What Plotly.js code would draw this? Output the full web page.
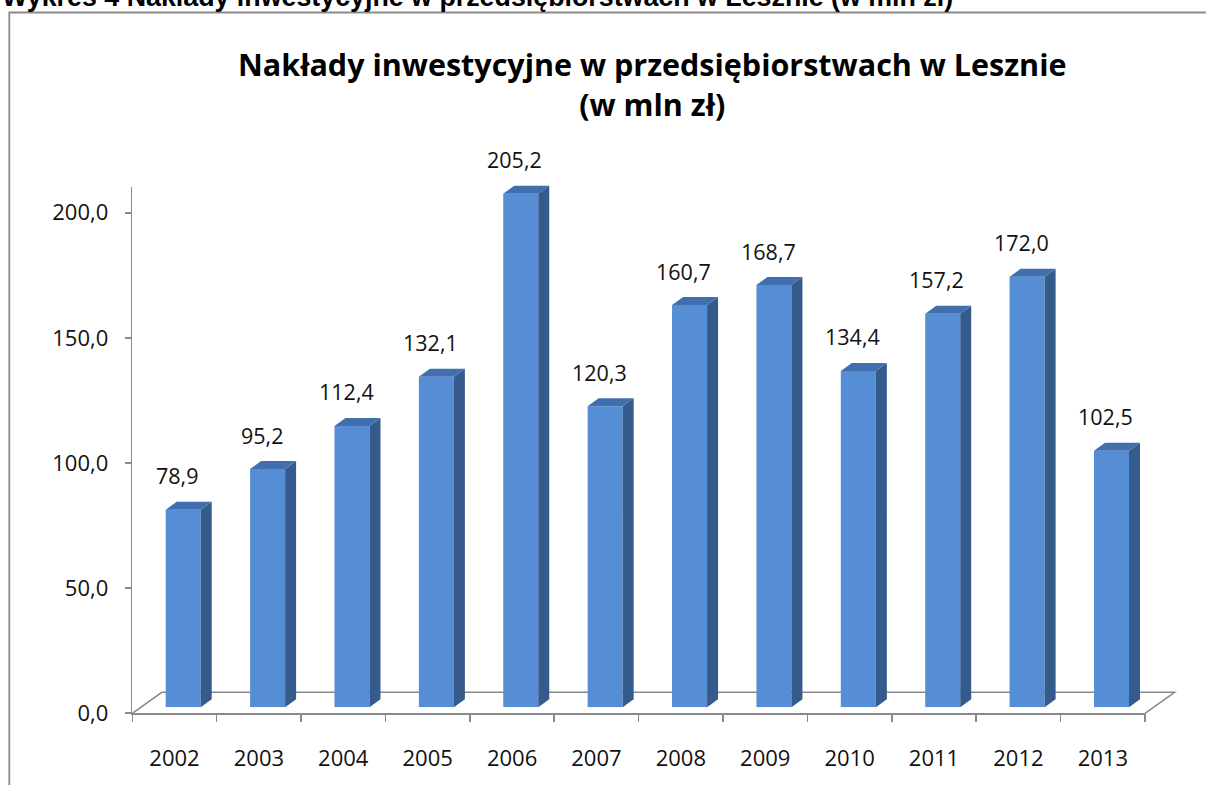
<!DOCTYPE html>
<html>
<head>
<meta charset="utf-8">
<script src="https://cdn.plot.ly/plotly-3.0.1.min.js"></script>
<style>html,body{margin:0;padding:0;background:#fff;}#chart{width:1206px;height:785px;}</style>
</head>
<body>
<div id="chart"></div>
<script>
// ---- data ----
const years = ["2002","2003","2004","2005","2006","2007","2008","2009","2010","2011","2012","2013"];
const values = [78.9, 95.2, 112.4, 132.1, 205.2, 120.3, 160.7, 168.7, 134.4, 157.2, 172.0, 102.5];
const yTicks = [0, 50, 100, 150, 200];
const chartTitle = "Nakłady inwestycyjne w przedsiębiorstwach w Lesznie<br>(w mln zł)";
const headerText = "Wykres 4 Nakłady inwestycyjne w przedsiębiorstwach w Lesznie (w mln zł)";

// ---- layout constants (pixels) ----
const W = 1206, H = 785;
const AX_L = 132.3, AX_R = 1145, AX_B = 713.3, AX_T = 186.7;
const Y_MAX = 210.4;
const BAR_DX = 8.7, BAR_DY = 6;          // bar plane offset from front axis
const FLOOR_DX = 29.5, FLOOR_DY = 21;    // floor depth
const DEPTH_PX_X = 11, DEPTH_PX_Y = 8;   // bar depth
const BAR_W = 0.415;

const fx = p => p / W;
const fy = p => 1 - p / H;
const pxPerCat = (AX_R - AX_L) / years.length;
const pxPerUnit = (AX_B - AX_T) / Y_MAX;
const dxu = DEPTH_PX_X / pxPerCat;
const dyu = DEPTH_PX_Y / pxPerUnit;

const idx = years.map((_, i) => i);

// side faces and top faces built from the values
const sideX = [], sideY = [], topX = [], topY = [];
values.forEach((v, i) => {
  const xl = i - BAR_W / 2, xr = i + BAR_W / 2;
  sideX.push(xr, xr + dxu, xr + dxu, xr, xr, null);
  sideY.push(0, dyu, v + dyu, v, 0, null);
  topX.push(xl, xl + dxu, xr + dxu, xr, xl, null);
  topY.push(v, v + dyu, v + dyu, v, v, null);
});

const FRONT = "#558ED5", SIDE = "#355B8D", TOP = "#416FAE";

const traces = [
  // invisible carriers so the front axes are drawn
  {type: "scatter", mode: "markers", x: idx, y: values, xaxis: "x", yaxis: "y",
   marker: {opacity: 0, size: 1}, hoverinfo: "skip"},
  {type: "scatter", mode: "markers", x: idx, y: values, xaxis: "x3", yaxis: "y",
   marker: {opacity: 0, size: 1}, hoverinfo: "skip"},
  {type: "bar", x: idx, y: values, xaxis: "x2", yaxis: "y2", width: BAR_W,
   marker: {color: FRONT, line: {width: 0}}, hoverinfo: "skip"},
  {type: "scatter", mode: "lines", x: sideX, y: sideY, xaxis: "x2", yaxis: "y2",
   fill: "toself", fillcolor: SIDE, line: {width: 0, color: SIDE}, hoverinfo: "skip", cliponaxis: false},
  {type: "scatter", mode: "lines", x: topX, y: topY, xaxis: "x2", yaxis: "y2",
   fill: "toself", fillcolor: TOP, line: {width: 0, color: TOP}, hoverinfo: "skip", cliponaxis: false}
];

const FONT = "Open Sans, Lato, sans-serif";
const GRAY = "#8a8a8a";

const labelAnns = values.map((v, i) => ({
  x: i - 0.07, y: v, xref: "x2", yref: "y2",
  text: v.toFixed(1).replace(".", ","), showarrow: false,
  yanchor: "middle", yshift: 34,
  font: {family: FONT, size: 21.5, color: "#111"}
}));

const layout = {
  width: W, height: H,
  margin: {l: 0, r: 0, t: 0, b: 0},
  paper_bgcolor: "#fff", plot_bgcolor: "rgba(0,0,0,0)",
  showlegend: false,
  separators: ", ",
  font: {family: FONT, color: "#111"},
  xaxis: {
    domain: [fx(AX_L), fx(AX_R)], anchor: "y", range: [-0.5, years.length - 0.5],
    tickvals: idx, ticktext: years, ticks: "", showgrid: false, zeroline: false,
    showline: true, linecolor: GRAY, linewidth: 1.6,
    tickfont: {family: FONT, size: 22, color: "#111"}, ticklabelstandoff: 25
  },
  xaxis3: {
    overlaying: "x", anchor: "y", range: [-0.5, years.length - 0.5],
    tickvals: idx.concat([years.length]).map(i => i - 0.5), ticks: "outside", ticklen: 8,
    tickcolor: GRAY, tickwidth: 1.6, showticklabels: false, showgrid: false, zeroline: false, showline: false
  },
  yaxis: {
    domain: [fy(AX_B), fy(AX_T)], anchor: "x", range: [0, Y_MAX],
    tickvals: yTicks, tickformat: ".1f", ticks: "outside", ticklen: 6, tickcolor: GRAY, tickwidth: 1.6,
    showgrid: false, zeroline: false, showline: true, linecolor: GRAY, linewidth: 1.6,
    tickfont: {family: FONT, size: 22, color: "#111"}, ticklabelstandoff: 12
  },
  xaxis2: {
    domain: [fx(AX_L + BAR_DX), fx(AX_R + BAR_DX)], anchor: "y2", range: [-0.5, years.length - 0.5],
    visible: false
  },
  yaxis2: {
    domain: [fy(AX_B - BAR_DY), fy(AX_T - BAR_DY)], anchor: "x2", range: [0, Y_MAX],
    visible: false
  },
  shapes: [
    // floor outline (left, back, right edges)
    {type: "path", xref: "paper", yref: "paper", layer: "below",
     path: `M ${fx(AX_L)} ${fy(AX_B)} L ${fx(AX_L + FLOOR_DX)} ${fy(AX_B - FLOOR_DY)} L ${fx(AX_R + FLOOR_DX)} ${fy(AX_B - FLOOR_DY)} L ${fx(AX_R)} ${fy(AX_B)}`,
     line: {color: GRAY, width: 1.6}},
    // page frame
    {type: "path", xref: "paper", yref: "paper", layer: "below",
     path: `M ${fx(9.3)} 0 L ${fx(9.3)} ${fy(12.5)} L 1 ${fy(12.5)}`,
     line: {color: GRAY, width: 1.8}}
  ],
  annotations: [
    {xref: "paper", yref: "paper", x: 0, y: fy(-2.5), xanchor: "left", yanchor: "middle",
     text: "<b>" + headerText + "</b>", showarrow: false,
     font: {family: "Liberation Sans, Arial, sans-serif", size: 26.8, color: "#000"}},
    {xref: "paper", yref: "paper", x: fx(652), y: fy(84), xanchor: "center", yanchor: "middle",
     text: "<b>" + chartTitle + "</b>", showarrow: false,
     font: {family: FONT, size: 30.5, color: "#000"}}
  ].concat(labelAnns)
};

Plotly.newPlot("chart", traces, layout, {staticPlot: true, displayModeBar: false});
</script>
</body>
</html>
